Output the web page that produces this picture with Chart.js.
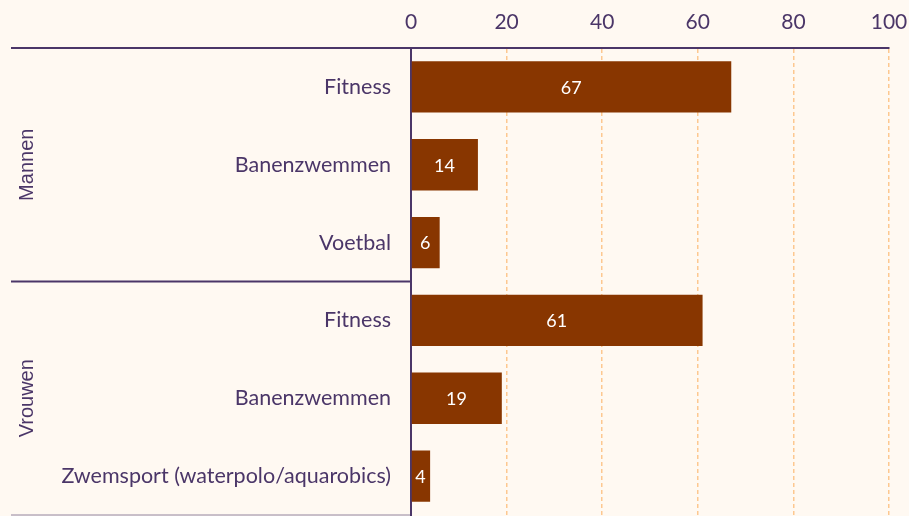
<!DOCTYPE html>
<html lang="nl">
<head>
    <meta charset="UTF-8">
    <title>Sportdeelname</title>
    <script src="https://cdn.jsdelivr.net/npm/chart.js"></script>
    <style>
        html, body { margin: 0; padding: 0; background: #fff9f2; overflow: hidden; }
        canvas { display: block; }
    </style>
</head>
<body>
    <canvas id="chart" width="909" height="516"></canvas>

    <script>
        const categories = ['Fitness', 'Banenzwemmen', 'Voetbal', 'Fitness', 'Banenzwemmen', 'Zwemsport (waterpolo/aquarobics)'];
        const values = [67, 14, 6, 61, 19, 4];
        const groups = ['Mannen', 'Vrouwen'];
        const groupSizes = [3, 3];
        const xTicks = [0, 20, 40, 60, 80, 100];

        const purple = '#4b3668';
        const brown = '#883600';

        // group labels, separator lines and value labels
        const groupPlugin = {
            id: 'groups',
            afterDraw(chart) {
                const c = chart.ctx;
                const y = chart.scales.y;
                const area = chart.chartArea;
                c.save();
                c.strokeStyle = purple;
                c.lineWidth = 2;
                c.beginPath();
                c.moveTo(11, area.top);
                c.lineTo(area.left, area.top);
                c.stroke();

                let start = 0;
                groups.forEach((g, i) => {
                    const end = start + groupSizes[i] - 1;
                    const last = end === categories.length - 1;
                    const top = start === 0 ? area.top : (y.getPixelForValue(start - 1) + y.getPixelForValue(start)) / 2;
                    const bottom = last ? area.bottom : (y.getPixelForValue(end) + y.getPixelForValue(end + 1)) / 2;
                    c.strokeStyle = purple;
                    c.lineWidth = last ? 1 : 2;
                    c.globalAlpha = last ? 0.6 : 1;
                    c.beginPath();
                    c.moveTo(11, bottom);
                    c.lineTo(area.left, bottom);
                    c.stroke();
                    c.globalAlpha = 1;

                    c.save();
                    c.translate(27, (top + bottom) / 2);
                    c.rotate(-Math.PI / 2);
                    c.fillStyle = purple;
                    c.font = '20px "Liberation Sans", Arial, sans-serif';
                    c.textAlign = 'center';
                    c.textBaseline = 'middle';
                    c.fillText(g, 0, 0);
                    c.restore();
                    start = end + 1;
                });

                const meta = chart.getDatasetMeta(0);
                const x0 = chart.scales.x.getPixelForValue(0);
                c.fillStyle = '#ffffff';
                c.font = '18px Lato, sans-serif';
                c.textAlign = 'center';
                c.textBaseline = 'middle';
                meta.data.forEach((bar, i) => {
                    c.fillText(values[i], (bar.x + x0) / 2, bar.y + 1);
                });
                c.restore();
            }
        };

        const ctx = document.getElementById('chart').getContext('2d');
        const chart = new Chart(ctx, {
            type: 'bar',
            data: {
                labels: categories,
                datasets: [{
                    data: values,
                    backgroundColor: brown,
                    borderWidth: 0,
                    barPercentage: 0.66,
                    categoryPercentage: 1
                }]
            },
            options: {
                indexAxis: 'y',
                responsive: false,
                animation: false,
                layout: { padding: { left: 0, right: 20, top: 0, bottom: 1 } },
                plugins: {
                    legend: { display: false },
                    tooltip: { enabled: false }
                },
                scales: {
                    x: {
                        position: 'top',
                        min: 0,
                        max: 100,
                        afterBuildTicks: (s) => { s.ticks = xTicks.map(v => ({ value: v })); },
                        afterFit: (s) => { s.height = 48; s.paddingLeft = 0; s.paddingRight = 0; },
                        border: { display: true, color: purple, width: 2, dash: [4, 3] },
                        grid: {
                            color: '#fdc890',
                            lineWidth: 1.5,
                            drawTicks: false
                        },
                        ticks: {
                            color: purple,
                            padding: 13,
                            font: { family: 'Lato', size: 21 }
                        }
                    },
                    y: {
                        afterFit: (s) => { s.width = 411; s.paddingTop = 0; s.paddingBottom = 0; },
                        border: { display: true, color: purple, width: 2 },
                        grid: { display: false, drawTicks: false },
                        ticks: {
                            color: purple,
                            padding: 20,
                            font: { family: 'Lato', size: 21.5 }
                        }
                    }
                }
            },
            plugins: [groupPlugin]
        });
    </script>
</body>
</html>
